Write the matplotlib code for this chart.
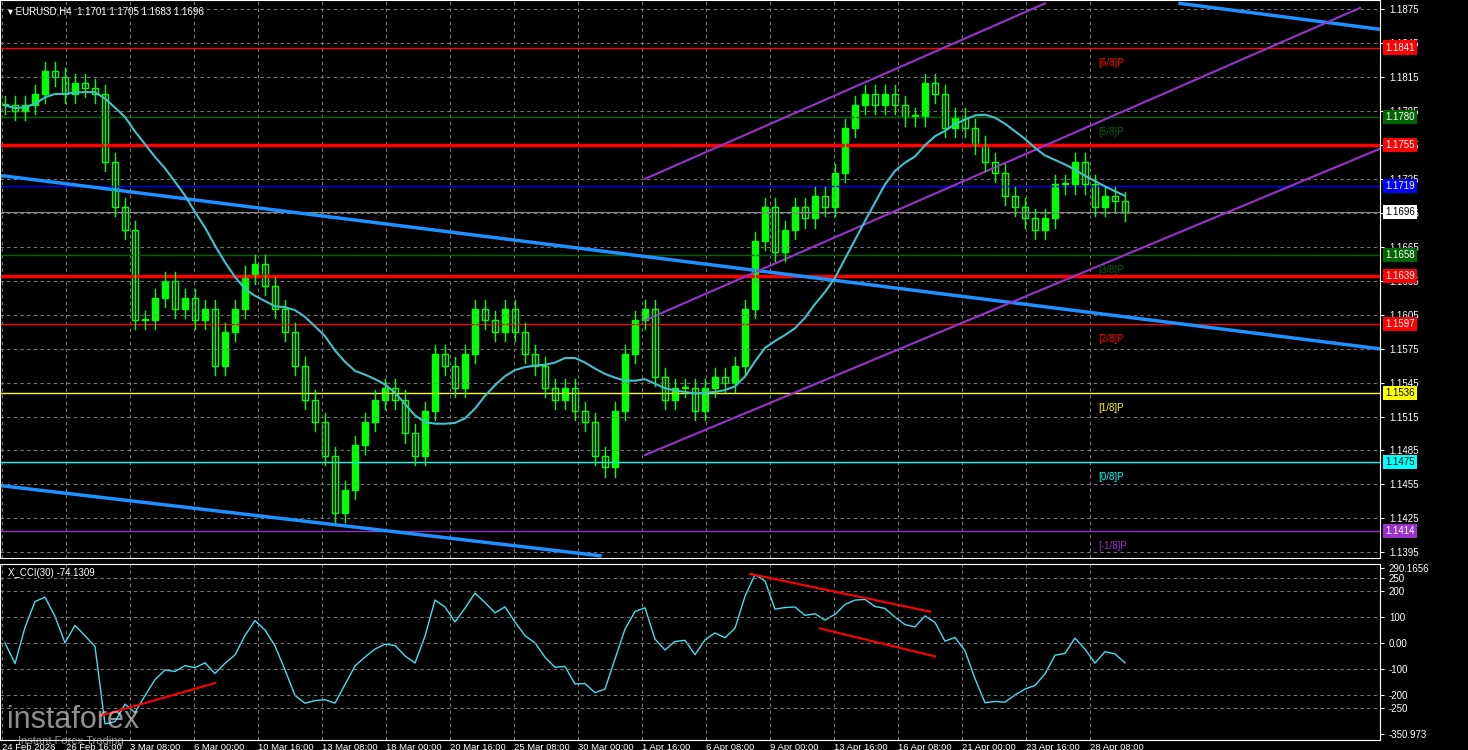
import matplotlib.pyplot as plt
import numpy as np

plt.rcParams['font.family'] = ['Liberation Sans', 'DejaVu Sans']

# Data (~2 H4 bars per candle)
closes = [1.1790, 1.1785, 1.1790, 1.1800, 1.1820, 1.1815, 1.1800, 1.1810, 1.1805, 1.1800,
          1.1740, 1.1700, 1.1680, 1.1600, 1.1600, 1.1620, 1.1635, 1.1610, 1.1620, 1.1600,
          1.1610, 1.1560, 1.1590, 1.1610, 1.1640, 1.1650, 1.1630, 1.1610, 1.1590, 1.1560,
          1.1530, 1.1510, 1.1480, 1.1430, 1.1450, 1.1490, 1.1510, 1.1530, 1.1540, 1.1530,
          1.1500, 1.1480, 1.1520, 1.1570, 1.1560, 1.1540, 1.1570, 1.1610, 1.1600, 1.1590,
          1.1610, 1.1590, 1.1570, 1.1560, 1.1540, 1.1530, 1.1540, 1.1520, 1.1510, 1.1480,
          1.1470, 1.1520, 1.1570, 1.1600, 1.1610, 1.1550, 1.1530, 1.1540, 1.1540, 1.1520,
          1.1540, 1.1550, 1.1545, 1.1560, 1.1610, 1.1670, 1.1700, 1.1660, 1.1680, 1.1700,
          1.1690, 1.1710, 1.1700, 1.1730, 1.1770, 1.1790, 1.1800, 1.1790, 1.1800, 1.1790,
          1.1780, 1.1780, 1.1810, 1.1800, 1.1770, 1.1780, 1.1770, 1.1755, 1.1740, 1.1730,
          1.1710, 1.1700, 1.1690, 1.1680, 1.1690, 1.1720, 1.1720, 1.1740, 1.1720, 1.1700,
          1.1710, 1.1705, 1.1696]
tick_labels = ["24 Feb 2026", "26 Feb 16:00", "3 Mar 08:00", "6 Mar 00:00", "10 Mar 16:00",
               "13 Mar 08:00", "18 Mar 00:00", "20 Mar 16:00", "25 Mar 08:00", "30 Mar 00:00",
               "1 Apr 16:00", "6 Apr 08:00", "9 Apr 00:00", "13 Apr 16:00", "16 Apr 08:00",
               "21 Apr 00:00", "23 Apr 16:00", "28 Apr 08:00"]
levels = [1.1841, 1.1780, 1.1755, 1.1719, 1.1658, 1.1639, 1.1597, 1.1536, 1.1475, 1.1414]
level_colors = ['red', '#006400', 'red', '#0000ff', '#006400', 'red', 'red', 'yellow', 'cyan', '#9932cc']
level_widths = [1, 1, 2.5, 1, 1, 2.5, 1, 1, 1, 1]
level_names = ['[6/8]P', '[5/8]P', None, None, '[3/8]P', None, '[2/8]P', '[1/8]P', '[0/8]P', '[-1/8]P']
# trend lines: (x0, p0, x1, p1, color)
trend_lines = [(0, 1.1728, 1468, 1.1565, '#1e90ff'), (0, 1.1454, 600, 1.1392, '#1e90ff'),
               (1180, 1.1880, 1468, 1.1847, '#1e90ff'),
               (645, 1.1725, 1045, 1.1880, '#9932cc'), (645, 1.1600, 1360, 1.1876, '#9932cc'),
               (645, 1.1481, 1468, 1.1784, '#9932cc')]
cci_div = [(100, -282, 215, -155), (750, 267, 930, 121), (820, 56, 935, -52)]

c = np.array(closes)
x = 5 + 10 * np.arange(len(c))
o = np.r_[c[0], c[:-1]]
W = 1468.
fig = plt.figure(figsize=(14.68, 7.5), dpi=100, facecolor='black')
ax = fig.add_axes([0, 1 - 558 / 750, 1380 / W, 558 / 750], facecolor='black')
ax2 = fig.add_axes([0, 1 - 740 / 750, 1380 / W, 176 / 750], facecolor='black')
for a in (ax, ax2):
    a.set_xlim(0, 1380)
    for s in a.spines.values():
        s.set_color('white')
    a.tick_params(colors='white', labelsize=7, length=3)
    a.yaxis.tick_right()
    for t in range(len(tick_labels)):
        a.axvline(2 + 64 * t, color='#777777', ls=(0, (3, 3)), lw=0.8)
ax.set_ylim(1.1390, 1.1883)
pticks = np.arange(1.1395, 1.1880, 0.003)
ax.set_yticks(pticks, [f'{p:.4f}' for p in pticks])
for p in pticks:
    ax.axhline(p, color='#777777', ls=(0, (3, 3)), lw=0.8)
ax.set_xticks([])

for lv, col, lw, nm in zip(levels, level_colors, level_widths, level_names):
    ax.axhline(lv, color=col, lw=lw)
    ax.text(1385, lv, f'{lv:.4f}', color='black' if col in ('yellow', 'cyan') else 'white',
            fontsize=7, va='center', clip_on=False,
            bbox=dict(fc=col, ec='none', pad=1.5))
    if nm:
        ax.text(1098, lv - 0.0009, nm, color=col, fontsize=7, va='top')
ax.axhline(1.1696, color='#888888', lw=0.8)
ax.text(1385, 1.1696, '1.1696', color='black', fontsize=7, va='center', clip_on=False,
        bbox=dict(fc='white', ec='none', pad=1.5))

for x0, p0, x1, p1, col in trend_lines:
    ax.plot([x0, x1], [p0, p1], color=col, lw=2.5 if col == '#1e90ff' else 1.5)

# candles
for xi, oi, ci in zip(x, o, c):
    hi, lo = max(oi, ci) + 0.0008, min(oi, ci) - 0.0008
    ax.plot([xi, xi], [lo, hi], color='#00ff00', lw=1)
    ax.add_patch(plt.Rectangle((xi - 3, min(oi, ci)), 6, max(abs(ci - oi), 0.0001),
                               fc='black' if ci < oi else '#00ff00', ec='#00ff00', lw=1))
ma = np.array([c[max(0, i - 14):i + 1].mean() for i in range(len(c))])
ax.plot(x, ma, color='#40c0d0', lw=1.5)
ax.text(8, 1.1877, '▾ EURUSD,H4  1.1701 1.1705 1.1683 1.1696', color='white', fontsize=7,
        va='top', family=['Liberation Sans', 'DejaVu Sans'])

# CCI
cci = []
for i in range(len(c)):
    w = c[max(0, i - 14):i + 1]
    md = np.abs(w - w.mean()).mean()
    cci.append(0 if md == 0 else (c[i] - w.mean()) / (0.015 * md))
cci = np.clip(np.array(cci) * 1.2, -330, 280)
ax2.set_ylim(-375, 305)
ax2.plot(x, cci, color='#40e0f0', lw=1)
cticks = [290.1656, 250, 200, 100, 0, -100, -200, -250, -350.973]
ax2.set_yticks(cticks, ['290.1656', '250', '200', '100', '0.00', '-100', '-200', '-250', '-350.973'])
for t in [250, 200, 100, 0, -100, -200, -250]:
    ax2.axhline(t, color='#777777', ls=(0, (3, 3)), lw=0.8)
for x0, y0, x1, y1 in cci_div:
    ax2.plot([x0, x1], [y0, y1], color='red', lw=1.5)
ax2.text(8, 290, 'X_CCI(30) -74.1309', color='white', fontsize=7, va='top')
ax2.set_xticks([2 + 64 * t for t in range(len(tick_labels))], tick_labels, ha='left')
ax2.tick_params(axis='x', length=0, pad=2, labelsize=6.8)
fig.text(0.005, 0.03, 'instaforex', color='#cccccc', fontsize=22, alpha=0.7)
fig.text(0.012, 0.008, 'Instant Forex Trading', color='#cccccc', fontsize=8, alpha=0.7)
fig.savefig('out.png', dpi=100, facecolor='black')
